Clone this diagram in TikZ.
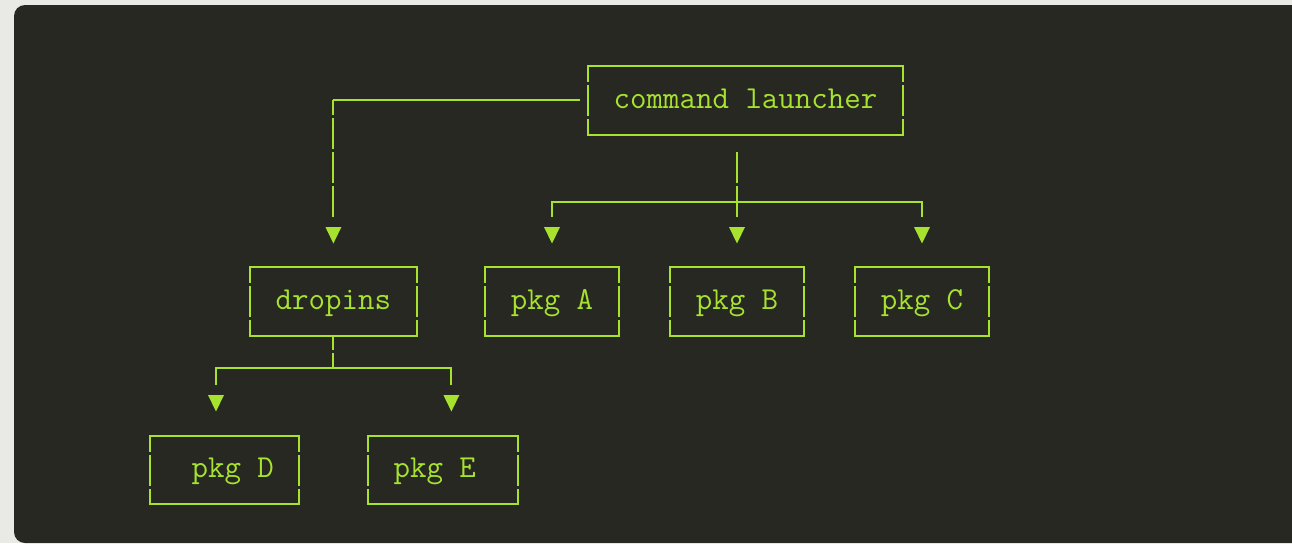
\documentclass[tikz,border=0pt]{standalone}
\usepackage{fontspec}
\usepackage{tikz}

\definecolor{bgpage}{RGB}{233,233,229}
\definecolor{bgcode}{RGB}{39,40,34}
\definecolor{lime}{RGB}{166,226,46}

\tikzset{
  box/.style={draw=none, text=lime, font=\ttfamily\fontsize{24}{28}\selectfont, inner xsep=18.9pt, inner ysep=0pt, minimum height=51pt, text height=14pt, text depth=2.3pt},
  link/.style={draw=lime, line width=1.5pt},
  rowgap/.style={dash pattern=on 23.25pt off 2.25pt},
  sidegap/.style={dash pattern=on 12pt off 2.25pt on 23.25pt off 2.25pt on 14pt off 10pt},
  dtip/.pic={\fill[lime] (-8,0) -- (8,0) -- (0,-16.5) -- cycle;}
}

\begin{document}
\begin{tikzpicture}[x=0.75pt,y=0.75pt,yscale=-1,xscale=1]
\useasboundingbox (0,0) rectangle (1292,543);
%Background
\fill[bgpage] (0,0) rectangle (1292,543);
\fill[bgcode, rounded corners=8.25pt] (14,5) rectangle (1320,543);

% Text Nodes
\node[box] (launcher) at (745.5,100.3) {command launcher};
\node[box] (dropins) at (333.4,301.7) {dropins};
\node[box] (pkgA) at (552,301.7) {pkg A};
\node[box] (pkgB) at (737,301.7) {pkg B};
\node[box] (pkgC) at (922,301.7) {pkg C};
\node[box] (pkgD) at (224.5,470) {\hphantom{x}pkg D};
\node[box] (pkgE) at (443,470) {pkg E\hphantom{x}};

%Box frames
\foreach \n in {launcher,dropins,pkgA,pkgB,pkgC,pkgD,pkgE} {
  \draw[link, line cap=rect] (\n.north west) -- (\n.north east) (\n.south west) -- (\n.south east);
  \draw[link, sidegap] (\n.north west) -- (\n.south west) (\n.north east) -- (\n.south east);
}

%Arrow heads
\coordinate (tipDr) at (333.4,227);
\coordinate (tipA) at (552,227);
\coordinate (tipB) at (737,227);
\coordinate (tipC) at (922,227);
\coordinate (tipD) at (216,395);
\coordinate (tipE) at (451.4,395);
\foreach \t in {tipDr,tipA,tipB,tipC,tipD,tipE} \pic at (\t) {dtip};

%Straight Lines
\coordinate (launcherOut) at (737,152);
\coordinate (hub) at (737,202);
\coordinate (dropHub) at (333.4,368);
\draw[link, shorten <=6.45pt] (launcher.west) -- (launcher.west -| tipDr);
\draw[link, rowgap, dash phase=12pt, shorten >=7.5pt] (launcher.west -| tipDr) -- (tipDr);
\draw[link, rowgap, shorten >=7.5pt] (launcherOut) -- (tipB);
\draw[link, shorten <=7.5pt, shorten >=7.5pt] (tipA) |- (hub) -| (tipC);
\draw[link, dash pattern=on 10.5pt off 2.25pt on 30pt] (dropins.south) -- (dropHub);
\draw[link, shorten <=7.5pt, shorten >=7.5pt] (tipD) |- (dropHub) -| (tipE);

\end{tikzpicture}
\end{document}
